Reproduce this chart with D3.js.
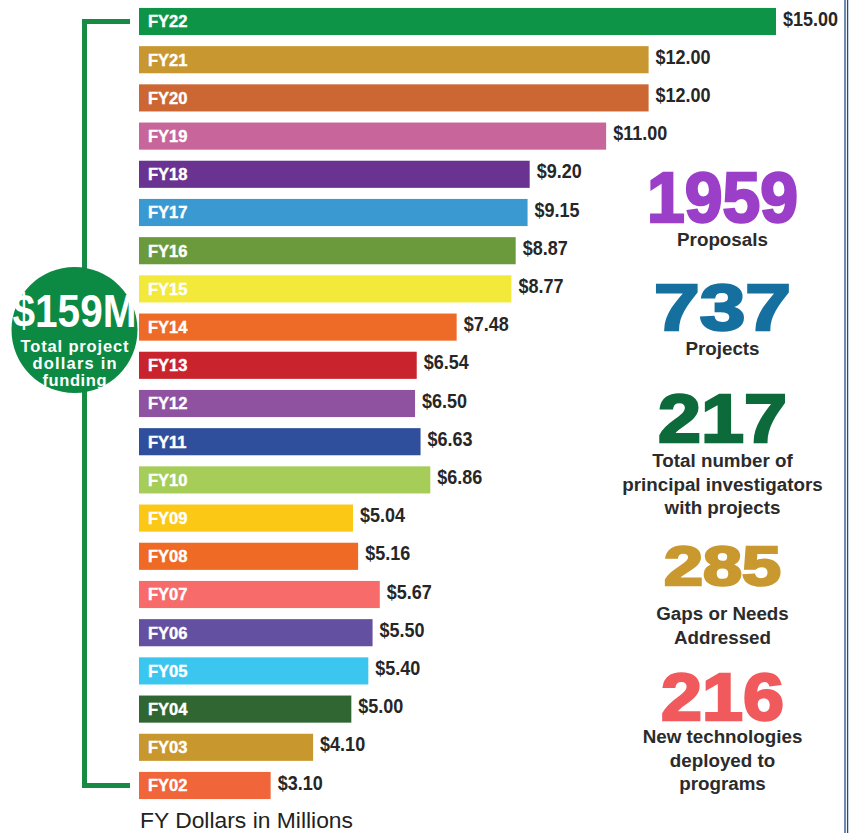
<!DOCTYPE html>
<html><head><meta charset="utf-8">
<script src="https://cdn.jsdelivr.net/npm/d3@7"></script>
<style>
html,body{margin:0;padding:0;background:#fff;}
svg{display:block;}
</style></head>
<body>
<script>
const years = ["FY22","FY21","FY20","FY19","FY18","FY17","FY16","FY15","FY14","FY13","FY12","FY11","FY10","FY09","FY08","FY07","FY06","FY05","FY04","FY03","FY02"];
const values = [15.00,12.00,12.00,11.00,9.20,9.15,8.87,8.77,7.48,6.54,6.50,6.63,6.86,5.04,5.16,5.67,5.50,5.40,5.00,4.10,3.10];
const barColors = ["#0e9447","#c9972f","#cc6633","#c8659a","#6a3391","#3a99d0","#6b9a3d","#f2e93b","#ee6a27","#c9242e","#8e52a1","#2f4f9d","#a5cd58","#fcc816","#ef6b25","#f76b6b","#6450a0","#3bc6ef","#2f6632","#c8982e","#f0653a"];
const statNumbers = ["1959","737","217","285","216"];
const statColors = ["#9b3fc9","#16709f","#0d6b3b","#c9982f","#f15a5d"];
const statLabels = [["Proposals"],["Projects"],["Total number of","principal investigators","with projects"],["Gaps or Needs","Addressed"],["New technologies","deployed to","programs"]];
const totalText = "$159M";
const totalLabel = ["Total project","dollars in","funding"];
const axisTitle = "FY Dollars in Millions";

const W = 858, H = 833;
const svg = d3.select("body").append("svg").attr("width", W).attr("height", H);

const x = d3.scaleLinear().domain([0, 15]).range([139, 776]);
const y = d3.scaleBand().domain(years).range([2.4, 804.6]).paddingInner(0.29).paddingOuter(0.145);

const sans = "'Liberation Sans',Arial,Helvetica,sans-serif";

// bracket
const bx = 84.5, yTop = y(years[0]) + y.bandwidth()/2, yBot = y(years[years.length-1]) + y.bandwidth()/2;
svg.append("path")
  .attr("d", `M130,${yTop} H${bx} V${yBot} H130`)
  .attr("fill","none").attr("stroke","#178a43").attr("stroke-width",5);

// circle
svg.append("circle").attr("cx",74.5).attr("cy",330).attr("r",63).attr("fill","#0c8a43");
svg.append("text").attr("x",74.5).attr("y",327).attr("text-anchor","middle")
  .attr("font-family",sans).attr("font-weight","bold").attr("font-size",46)
  .attr("fill","#fff").attr("textLength",124).attr("lengthAdjust","spacingAndGlyphs").text(totalText);
const circleLabelW = [108, 84, 64];
svg.append("g").selectAll("text").data(totalLabel).join("text")
  .attr("x",74.5).attr("y",(d,i)=>352+i*17).attr("text-anchor","middle")
  .attr("font-family",sans).attr("font-weight","bold").attr("font-size",16.5)
  .attr("textLength",(d,i)=>circleLabelW[i]).attr("lengthAdjust","spacing")
  .attr("fill","#fff").text(d=>d);

// bars
const rows = svg.append("g").selectAll("g").data(years).join("g");
rows.append("rect")
  .attr("x", x(0)).attr("y", d=>y(d))
  .attr("width", (d,i)=>x(values[i])-x(0)).attr("height", y.bandwidth())
  .attr("fill", (d,i)=>barColors[i]);
rows.append("text")
  .attr("x", x(0)+9).attr("y", d=>y(d)+y.bandwidth()/2).attr("dy","0.36em")
  .attr("font-family",sans).attr("font-weight","bold").attr("font-size",16.5)
  .attr("fill","#fff").attr("stroke","#fff").attr("stroke-width",0.4).text(d=>d);
rows.append("text")
  .attr("transform",(d,i)=>`translate(${x(values[i])+7},${y(d)+y.bandwidth()/2}) scale(0.9,1)`)
  .attr("dy","0.2em")
  .attr("font-family",sans).attr("font-weight","bold").attr("font-size",20)
  .attr("fill","#262626").text((d,i)=>"$"+values[i].toFixed(2));

// axis title
svg.append("text").attr("x",140).attr("y",828)
  .attr("font-family",sans).attr("font-size",22.5).attr("fill","#222")
  .attr("textLength",213).attr("lengthAdjust","spacingAndGlyphs").text(axisTitle);

// stats
const statNumY = [222, 330, 442, 585, 720];
const statNumH = [50, 47, 49, 40, 48];
const statNumW = [153, 139, 131, 119, 125];
const statLabelY = [246, 355, 467, 620, 743];
const cx = 722.5;
const st = svg.append("g");
statNumbers.forEach((n,i)=>{
  st.append("text").attr("x",cx).attr("y",statNumY[i]).attr("text-anchor","middle")
    .attr("font-family",sans).attr("font-weight","900").attr("font-size",statNumH[i]/0.716)
    .attr("fill",statColors[i]).attr("stroke",statColors[i]).attr("stroke-width",2.5)
    .attr("textLength",statNumW[i]-2).attr("lengthAdjust","spacingAndGlyphs").text(n);
  statLabels[i].forEach((l,j)=>{
    st.append("text").attr("x",cx).attr("y",statLabelY[i]+j*23.5).attr("text-anchor","middle")
      .attr("font-family",sans).attr("font-weight","bold").attr("font-size",18.8)
      .attr("fill","#2b2b2b").text(l);
  });
});

// right double border
[845, 847.6].forEach(xx=>{
  svg.append("line").attr("x1",xx).attr("x2",xx).attr("y1",0).attr("y2",H)
    .attr("stroke","#244c86").attr("stroke-width",1.3);
});
</script>
</body></html>
